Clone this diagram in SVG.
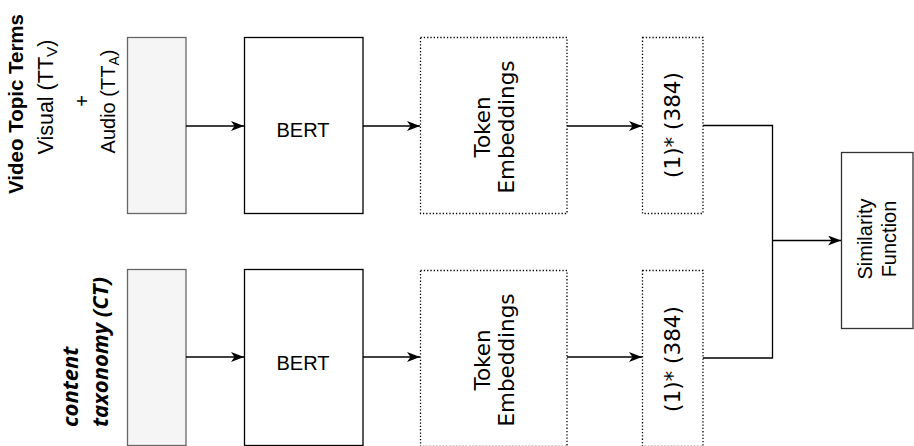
<svg xmlns="http://www.w3.org/2000/svg" width="914" height="446" viewBox="0 0 914 446">
<defs>
<style>
.input{fill:#f5f5f5;stroke:#666666;stroke-width:1.3}
.solid{fill:#ffffff;stroke:#000000;stroke-width:1.3}
.dotted{fill:#ffffff;stroke:#000000;stroke-width:1.3;stroke-dasharray:1.3 2}
.conn{fill:none;stroke:#000000;stroke-width:1.3}
.arial{font-family:"Liberation Sans",Arial,sans-serif;fill:#000000}
.dejavu{font-family:"DejaVu Sans",sans-serif;font-size:21.5px;fill:#000000}
.opensans{font-family:"Open Sans",sans-serif;font-size:22px;font-weight:bold;font-style:italic;fill:#000000}
</style>
<marker id="arrow" markerWidth="14" markerHeight="11" refX="13" refY="5" orient="auto" markerUnits="userSpaceOnUse">
<path d="M0,0 L13,5 L0,10 L3.5,5 Z" fill="#000000"/>
</marker>
</defs>
<rect width="914" height="446" fill="#ffffff"/>

<g id="labels-video">
<text class="arial" font-weight="bold" font-size="20.5" text-anchor="middle" transform="translate(23,104) rotate(-90)">Video Topic Terms</text>
<text class="arial" font-size="21.5" text-anchor="middle" transform="translate(52.5,97) rotate(-90)">Visual (TT<tspan font-size="15.5" dy="4">V</tspan><tspan dy="-4">)</tspan></text>
<text class="arial" font-size="20" text-anchor="middle" transform="translate(88.5,101) rotate(-90)">+</text>
<text class="arial" font-size="20" text-anchor="middle" transform="translate(114.5,101.5) rotate(-90)">Audio (TT<tspan font-size="14" dy="4">A</tspan><tspan dy="-4">)</tspan></text>
</g>
<g id="labels-ct">
<text class="opensans" text-anchor="start" transform="translate(78,427) rotate(-90)">content</text>
<text class="opensans" text-anchor="start" transform="translate(108,427) rotate(-90)">taxonomy (CT)</text>
</g>

<g id="input-vtt"><rect class="input" x="127.5" y="37.5" width="58.5" height="176"/></g>
<g id="input-ct"><rect class="input" x="127.5" y="269.5" width="58.5" height="176"/></g>

<g id="bert-top">
<rect class="solid" x="244.5" y="37.5" width="118.5" height="176"/>
<text class="arial" font-size="20" text-anchor="middle" x="303" y="137">BERT</text>
</g>
<g id="bert-bottom">
<rect class="solid" x="244.5" y="269.5" width="118.5" height="176"/>
<text class="arial" font-size="20" text-anchor="middle" x="303" y="370">BERT</text>
</g>

<g id="token-top">
<rect class="dotted" x="420.5" y="37.5" width="146.5" height="176"/>
<text class="dejavu" text-anchor="middle" transform="translate(490,127) rotate(-90)">Token</text>
<text class="dejavu" text-anchor="middle" transform="translate(514,127) rotate(-90)">Embeddings</text>
</g>
<g id="token-bottom">
<rect class="dotted" x="420.5" y="270.5" width="146.5" height="176"/>
<text class="dejavu" text-anchor="middle" transform="translate(490,360) rotate(-90)">Token</text>
<text class="dejavu" text-anchor="middle" transform="translate(514,360) rotate(-90)">Embeddings</text>
</g>

<g id="vec-top">
<rect class="dotted" x="642.5" y="37.5" width="60.5" height="176"/>
<text class="dejavu" text-anchor="middle" transform="translate(680,125) rotate(-90)">(1)* (384)</text>
</g>
<g id="vec-bottom">
<rect class="dotted" x="642.5" y="270.5" width="60.5" height="176"/>
<text class="dejavu" text-anchor="middle" transform="translate(680,359) rotate(-90)">(1)* (384)</text>
</g>

<g id="similarity">
<rect class="solid" x="841.5" y="152.5" width="71.5" height="176" style="stroke:#333333"/>
<text class="arial" font-size="20" text-anchor="middle" transform="translate(872,239) rotate(-90)">Similarity</text>
<text class="arial" font-size="20" text-anchor="middle" transform="translate(896,239) rotate(-90)">Function</text>
</g>

<g id="connectors">
<line class="conn" x1="186" y1="126" x2="244" y2="126" marker-end="url(#arrow)"/>
<line class="conn" x1="363" y1="126" x2="420" y2="126" marker-end="url(#arrow)"/>
<line class="conn" x1="567" y1="126" x2="642" y2="126" marker-end="url(#arrow)"/>
<line class="conn" x1="186" y1="357" x2="244" y2="357" marker-end="url(#arrow)"/>
<line class="conn" x1="363" y1="357" x2="420" y2="357" marker-end="url(#arrow)"/>
<line class="conn" x1="567" y1="357" x2="642" y2="357" marker-end="url(#arrow)"/>
<polyline class="conn" points="703,125.5 772.5,125.5 772.5,358 703,358"/>
<line class="conn" x1="772.5" y1="240.5" x2="841" y2="240.5" marker-end="url(#arrow)"/>
</g>
</svg>
